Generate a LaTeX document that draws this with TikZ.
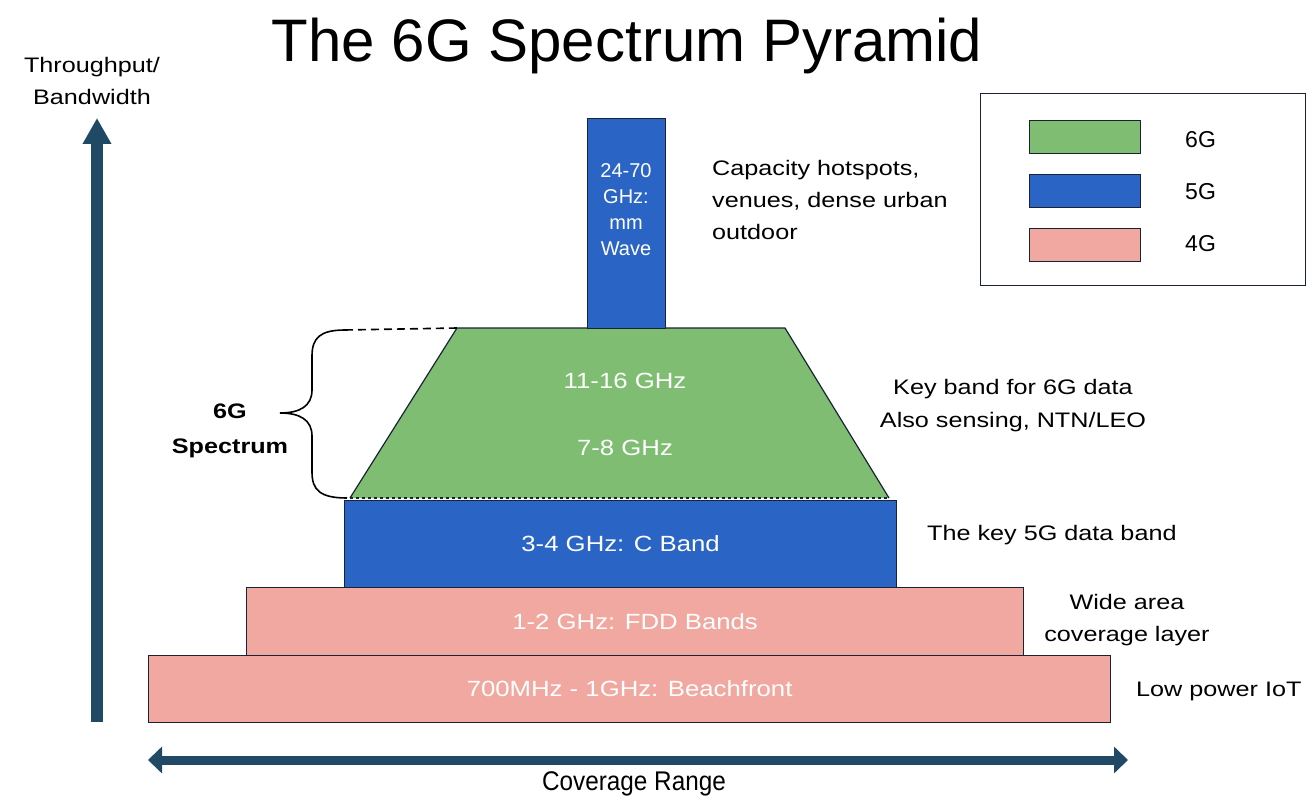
\documentclass[tikz,border=0pt]{standalone}
\usepackage{fontspec}
\setmainfont{Liberation Sans}
\newfontfamily\widef[FakeStretch=1.2]{Liberation Sans}
\newfontfamily\boxf[FakeStretch=1.17]{Liberation Sans}
\newfontfamily\narrowf[FakeStretch=0.9]{Liberation Sans}
\usetikzlibrary{arrows.meta}
\definecolor{pinkg}{HTML}{F0A8A0}
\definecolor{blueg}{HTML}{2A64C5}
\definecolor{greeng}{HTML}{7FBD72}
\definecolor{axisc}{HTML}{1F4964}
\definecolor{edgec}{HTML}{1A2333}
\tikzset{
  band/.style={draw=edgec, line width=1.2pt, anchor=north west, inner sep=0pt, text=white},
  bandtext/.style={text=white, inner sep=0pt, font=\boxf\fontsize{22}{26}\selectfont},
  lbl/.style={font=\widef\fontsize{21}{32}\selectfont, text=black, inner sep=0pt},
  swatch/.style={draw=edgec, line width=1.2pt, anchor=north west, minimum width=111pt, minimum height=33pt, inner sep=0pt},
  leglbl/.style={anchor=west, inner sep=0pt, font=\fontsize{23}{26}\selectfont},
}
\begin{document}
\begin{tikzpicture}[x=1pt,y=-1pt]
\useasboundingbox (0,0) rectangle (1315,805);
% title
\node[font=\fontsize{60}{70}\selectfont, inner sep=0pt] (title) at (627,46) {The 6G Spectrum Pyramid};
% axes
\coordinate (yb) at (97,722);
\coordinate (yt) at (97,118);
\draw[axisc, line width=12pt, -{Triangle[width=27pt,length=26pt]}] (yb) -- (yt);
\node[lbl, align=center] (ylab) at (92,81) {Throughput/\\Bandwidth};
\coordinate (xl) at (148,760);
\coordinate (xr) at (1128,760);
\draw[axisc, line width=9pt, {Triangle[width=26pt,length=14pt]}-{Triangle[width=26pt,length=14pt]}] (xl) -- (xr);
\node[inner sep=0pt, font=\narrowf\fontsize{27}{30}\selectfont] (xlab) at (634,784) {Coverage Range};
% bands
\node[band, fill=pinkg, minimum width=962pt, minimum height=67pt] (b700) at (148,655) {};
\node[bandtext] at (b700.center) {700MHz - 1GHz: Beachfront};
\node[band, fill=pinkg, minimum width=777pt, minimum height=68pt] (bfdd) at (246,587) {};
\node[bandtext] at (bfdd.center) {1-2 GHz: FDD Bands};
\node[band, fill=blueg, minimum width=552pt, minimum height=87pt] (bc) at (344,500) {};
\node[bandtext] at (bc.center) {3-4 GHz: C Band};
% trapezoid
\coordinate (tbl) at (350,498);
\coordinate (tbr) at (889,498);
\coordinate (ttr) at (785,328);
\coordinate (ttl) at (457,328);
\fill[greeng] (tbl) -- (tbr) -- (ttr) -- (ttl) -- cycle;
\draw[edgec, line width=1.2pt] (tbr) -- (ttr) -- (ttl) -- (tbl);
\draw[edgec, line width=1.2pt, dashed] (tbl) -- (tbr);
\node[bandtext] (t1116) at (625,381) {11-16 GHz};
\node[bandtext] (t78) at (625,448) {7-8 GHz};
% mmWave
\node[band, fill=blueg, minimum width=78pt, minimum height=210pt] (bmm) at (587,118) {};
\node[bandtext, align=center, font=\fontsize{20}{26}\selectfont] at (626,210) {24-70\\GHz:\\mm\\Wave};
% brace
\coordinate (brt) at (345,330);
\coordinate (brb) at (347,498);
\draw[black, line width=1.6pt] (brt) .. controls (320,330) and (312,338) .. (312,356) -- (312,390)
  .. controls (312,406) and (300,413) .. (280,413)
  .. controls (300,413) and (312,420) .. (312,436) -- (312,472)
  .. controls (312,490) and (320,498) .. (brb);
\draw[black, line width=1.6pt, dash pattern=on 8pt off 5pt] (brt) -- (ttl);
\node[inner sep=0pt, align=center, font=\widef\bfseries\fontsize{21}{35}\selectfont] (sp) at (230,431) {6G\\Spectrum};
% right labels
\node[lbl, anchor=north west, align=left, font=\widef\fontsize{21}{32}\selectfont] (cap) at (712,160) {Capacity hotspots,\\venues, dense urban\\outdoor};
\node[lbl, align=center, font=\widef\fontsize{21}{33}\selectfont] (key6) at (1013,406) {Key band for 6G data\\Also sensing, NTN/LEO};
\node[lbl, anchor=west] (key5) at (927,535) {The key 5G data band};
\node[lbl, align=center] (wide) at (1127,620) {Wide area\\coverage layer};
\node[lbl, anchor=west] (iot) at (1136,691) {Low power IoT};
% legend
\node[draw=edgec, line width=1.4pt, anchor=north west, minimum width=325pt, minimum height=192pt, inner sep=0pt] (legend) at (980,93) {};
\node[swatch, fill=greeng] (s6) at (1029,120) {};
\node[swatch, fill=blueg] (s5) at (1029,174) {};
\node[swatch, fill=pinkg] (s4) at (1029,228) {};
\node[leglbl] (l6) at (1185,140) {6G};
\node[leglbl] (l5) at (1185,192) {5G};
\node[leglbl] (l4) at (1185,244) {4G};
\end{tikzpicture}
\end{document}
